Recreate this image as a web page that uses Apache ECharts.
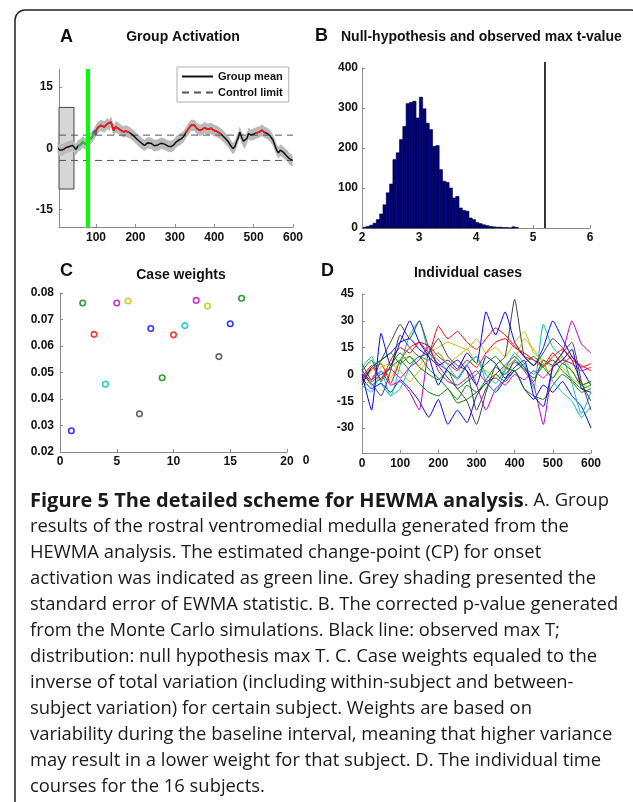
<!DOCTYPE html>
<html>
<head>
<meta charset="utf-8">
<script src="https://cdn.jsdelivr.net/npm/echarts@6.0.0/dist/echarts.min.js"></script>
<style>
  html, body { margin: 0; padding: 0; background: #fff; }
  #chart { width: 633px; height: 802px; }
</style>
</head>
<body>
<div id="chart"></div>
<script>

// ---- panel A: group EWMA statistic ----
let group_time = [
    2, 8, 15, 23, 32, 40, 45, 49, 55, 61,
    66, 70, 74, 79, 83, 87, 91, 97, 104, 112,
    121, 129, 134, 138, 145, 150, 155, 163, 170, 176,
    185, 191, 197, 204, 210, 217, 223, 231, 240, 248,
    257, 265, 274, 283, 291, 297, 303, 310, 316, 322,
    328, 335, 341, 350, 356, 363, 369, 375, 384, 392,
    398, 405, 412, 418, 426, 435, 442, 448, 453, 457,
    461, 465, 469, 474, 478, 483, 487, 493, 499, 504,
    508, 515, 521, 526, 529, 535, 542, 549, 555, 559,
    563, 568, 572, 576, 580, 585, 590, 595, 599
];
let group_mean = [
    0.2, -0.5, -0.4, 0.1, 0.4, 0.7, 0.2, -0.3, 0.6, 0.9,
    1.5, 1.2, 1.0, 1.8, 2.2, 2.4, 2.9, 3.8, 5.0, 5.6,
    5.2, 6.0, 5.6, 6.4, 4.3, 5.2, 5.0, 4.4, 4.0, 4.2,
    3.8, 3.4, 2.9, 2.2, 1.7, 1.1, 0.7, 1.3, 1.2, 0.6,
    0.8, 1.2, 1.0, 0.5, 0.4, 0.8, 1.5, 2.0, 2.3, 2.8,
    3.8, 4.8, 5.6, 5.6, 4.8, 4.4, 4.6, 5.0, 4.6, 4.9,
    4.4, 4.2, 3.8, 3.4, 2.6, 1.7, 0.6, -0.1, 0.5, 1.7,
    2.6, 3.9, 2.8, 1.7, 1.3, 2.4, 3.6, 3.2, 3.4, 3.6,
    3.8, 4.0, 4.4, 4.1, 3.8, 3.6, 3.0, 2.0, 0.5, -0.6,
    -1.1, -0.5, -0.7, -1.0, -1.5, -1.8, -2.5, -2.9, -3.0
];
let group_se = 1.4;
let red_spans = [[97, 185], [328, 418], [504, 529]];
let green_span = [55, 97];
let change_point = 80;
let cp_detect = [97, 3.8];
let control_limits = [3.2, -3.0];
let baseline_box = {x: [6, 44], y: [-10, 10]};

// ---- panel B: null distribution of max t ----
let bin_start = 2.02;
let bin_width = 0.058;
let null_counts = [
    2, 4, 7, 12, 21, 35, 58, 88, 110, 171,
    188, 221, 254, 311, 314, 317, 275, 327, 298, 262,
    246, 204, 206, 146, 117, 114, 100, 75, 79, 50,
    44, 42, 25, 21, 14, 11, 8, 6, 4, 3,
    2, 2, 1, 1, 0, 3, 1
];
let observed_t = 5.21;
let observed_top = 415;

// ---- panel C: case weights ----
let subjects = [1, 2, 3, 4, 5, 6, 7, 8, 9, 10, 11, 12, 13, 14, 15, 16];
let case_weights = [0.0280, 0.0762, 0.0644, 0.0456, 0.0762, 0.0770, 0.0344, 0.0666,
    0.0480, 0.0642, 0.0677, 0.0772, 0.0751, 0.0560, 0.0684, 0.0780];

// ---- panel D: individual time courses ----
let case_time = [0, 25, 50, 75, 100, 125, 150, 175, 200, 225, 250, 275, 300,
    325, 350, 375, 400, 425, 450, 475, 500, 525, 550, 575, 600];
let case_values = [
    [-2, -8, -5, -10, -3, -8, -15, -24, -14, -28, -20, -27, -12, -5, -10, -3, 2, -8, -14, -6, -10, -4, -12, -18, -30],
    [2, 8, -4, 5, 12, 6, 10, 3, -2, -8, -14, -6, -10, -3, 4, 0, 7, 3, -2, 5, 8, 2, -3, -8, -6],
    [-4, 3, 6, -5, 8, 15, 18, 12, 27, 20, 24, 18, 14, 20, 26, 22, 16, 10, 8, 5, 12, 6, 10, 4, 6],
    [4, 10, -5, -12, 5, 22, 30, 12, 8, 2, -3, 5, 10, 0, -5, 3, 12, 6, -8, 28, 15, 10, -5, -22, -10],
    [0, -3, 2, -6, -4, -10, -20, 12, 6, 2, -2, 5, -6, -20, -8, -3, 8, 2, -6, -28, 5, 12, 30, 17, 12],
    [-5, 2, 6, -2, 8, 10, 5, 12, 15, 18, 16, 14, 20, 12, 15, 10, 18, 24, 12, 8, 4, 10, 2, -5, -8],
    [6, -3, 8, 18, 28, 20, 30, 15, 5, -2, -8, -15, -28, -10, 5, 10, 42, 10, 5, 12, 20, 15, 8, -5, -15],
    [-6, 4, 8, 12, 18, 20, 14, 10, 5, 8, 3, 12, 6, 35, 22, 35, 18, 10, 5, 15, 30, 20, 10, 3, -6],
    [3, -6, -2, 4, 8, 2, -5, -10, -12, -8, -16, -14, -10, -5, 0, -4, 2, -8, -12, -14, -6, 0, -4, -10, -8],
    [-2, 5, -3, 8, 15, 12, 18, 16, 10, 6, 2, 8, 4, 12, 18, 20, 15, 12, 8, 4, 10, 14, 8, 5, 2],
    [-6, -10, 2, -12, -8, 4, 10, 8, 12, 5, -2, 6, 10, -4, -10, 2, 8, 4, 0, 6, -4, -10, -15, -24, -18],
    [2, -4, 0, 3, -2, 4, 8, 16, 2, -4, -6, -2, 2, -4, -2, -6, 0, -3, 2, -2, 4, 8, 6, 2, 4],
    [-8, -2, 4, 6, 2, -4, 2, 8, 12, 6, 10, 14, 6, 2, -2, 4, 8, 20, 14, 6, -2, 4, -2, -6, -4],
    [0, -5, -12, 2, 22, 15, 10, 12, 20, 10, 5, 2, -20, -8, 0, 5, 10, 4, -4, 8, 5, 12, 18, -4, -20],
    [0, -20, 23, 5, 18, 30, 18, 10, -6, 4, 8, 2, -6, 10, 6, -2, 4, 8, -12, -18, 4, 8, 14, -8, -10],
    [-3, 4, 8, 12, 6, 10, 4, 0, -3, 2, -8, -4, 0, 6, 10, 4, 2, 6, 10, 4, -2, 6, 2, -6, -4]
];

let caption_lines = [
    '{b|Figure 5 The detailed scheme for HEWMA analysis}. A. Group',
    'results of the rostral ventromedial medulla generated from the',
    'HEWMA analysis. The estimated change-point (CP) for onset',
    'activation was indicated as green line. Grey shading presented the',
    'standard error of EWMA statistic. B. The corrected p-value generated',
    'from the Monte Carlo simulations. Black line: observed max T;',
    'distribution: null hypothesis max T. C. Case weights equaled to the',
    'inverse of total variation (including within-subject and between-',
    'subject variation) for certain subject. Weights are based on',
    'variability during the baseline interval, meaning that higher variance',
    'may result in a lower weight for that subject. D. The individual time',
    'courses for the 16 subjects.'
];

// matlab default colour order
let matlab_colors = ['#0000ff', '#008000', '#ff0000', '#00bfbf', '#bf00bf', '#bfbf00', '#404040'];
let plot_font = '"Liberation Sans", Arial, sans-serif';
let caption_font = '"Open Sans", "Noto Sans", sans-serif';


document.addEventListener("DOMContentLoaded", () => {
    let chart = echarts.init(document.getElementById('chart'), null, {renderer: 'canvas'});
    chart.setOption(build_option());
});


function make_axis(grid, opts) {
    let axis = {
        type: 'value',
        gridIndex: grid,
        min: opts.min,
        max: opts.max,
        axisLine: {show: true, onZero: false, lineStyle: {color: '#8c8c8c', width: 1}},
        axisTick: {show: true, inside: true, length: 3, lineStyle: {color: '#8c8c8c'}},
        axisLabel: {
            color: '#111', fontWeight: 'bold', fontSize: 12, fontFamily: plot_font,
            margin: opts.margin || 6, showMinLabel: true, showMaxLabel: true
        },
        splitLine: {show: false}
    };
    if (opts.interval) axis.interval = opts.interval;
    if (opts.ticks) {
        axis.axisLabel.customValues = opts.ticks;
        axis.axisTick.customValues = opts.ticks;
    }
    if (opts.formatter) axis.axisLabel.formatter = opts.formatter;
    return axis;
}


function in_span(t, span) {
    return t >= span[0] && t <= span[1];
}


// standard error band drawn as one polygon (upper edge then lower edge back)
function render_band(params, api) {
    if (params.dataIndex !== 0) return null;
    let upper = group_time.map((t, i) => api.coord([t, group_mean[i] + group_se]));
    let lower = group_time.map((t, i) => api.coord([t, group_mean[i] - group_se])).reverse();
    return {
        type: 'polygon',
        shape: {points: upper.concat(lower)},
        style: {fill: '#bababa', stroke: null}
    };
}


function build_panel_a() {
    let mean = group_time.map((t, i) => [t, group_mean[i]]);
    let red = group_time.map((t, i) => {
        let hit = red_spans.some((s) => in_span(t, s));
        return [t, hit ? group_mean[i] : null];
    });
    let green = group_time.map((t, i) => [t, in_span(t, green_span) ? group_mean[i] : null]);

    return [
        {
            type: 'line', name: 'Control limit', xAxisIndex: 0, yAxisIndex: 0,
            data: [[6, control_limits[0]], [600, control_limits[0]]],
            symbol: 'none', silent: true,
            itemStyle: {color: '#555'},
            lineStyle: {color: '#555', width: 1, type: [7, 5]},
            markArea: {
                silent: true,
                itemStyle: {color: '#d6d6d6', borderColor: '#444', borderWidth: 1},
                data: [[
                    {xAxis: baseline_box.x[0], yAxis: baseline_box.y[0]},
                    {xAxis: baseline_box.x[1], yAxis: baseline_box.y[1]}
                ]]
            }
        },
        {
            type: 'line', name: 'Control limit', xAxisIndex: 0, yAxisIndex: 0,
            data: [[6, control_limits[1]], [600, control_limits[1]]],
            symbol: 'none', silent: true,
            itemStyle: {color: '#555'},
            lineStyle: {color: '#555', width: 1, type: [7, 5]}
        },
        {
            type: 'custom', name: 'band', xAxisIndex: 0, yAxisIndex: 0,
            renderItem: render_band, silent: true,
            data: mean, encode: {x: 0, y: 1}
        },
        {
            type: 'line', name: 'Group mean', xAxisIndex: 0, yAxisIndex: 0,
            data: mean, symbol: 'none',
            itemStyle: {color: '#111'},
            lineStyle: {color: '#111', width: 1.5}
        },
        {
            type: 'line', name: 'above_limit', xAxisIndex: 0, yAxisIndex: 0,
            data: red, symbol: 'none', connectNulls: false,
            lineStyle: {color: '#ff1a1a', width: 1.6}
        },
        {
            type: 'line', name: 'onset', xAxisIndex: 0, yAxisIndex: 0,
            data: green, symbol: 'none', connectNulls: false,
            lineStyle: {color: '#2ccf2c', width: 1.6},
            markLine: {
                silent: true, symbol: 'none', label: {show: false},
                lineStyle: {color: '#00ff00', width: 4, type: 'solid'},
                data: [{xAxis: change_point}]
            }
        },
        {
            type: 'scatter', name: 'cp', xAxisIndex: 0, yAxisIndex: 0,
            data: [cp_detect], symbolSize: 5,
            itemStyle: {color: '#3352c8'}
        }
    ];
}


function render_bin(params, api) {
    let start = api.coord([api.value(0), api.value(2)]);
    let end = api.coord([api.value(1), 0]);
    return {
        type: 'rect',
        shape: {x: start[0], y: start[1], width: end[0] - start[0], height: end[1] - start[1]},
        style: {fill: '#000084', stroke: '#000022', lineWidth: 0.6}
    };
}


function build_panel_b() {
    let bins = null_counts.map((c, i) => [bin_start + i * bin_width, bin_start + (i + 1) * bin_width, c]);
    return [
        {
            type: 'custom', name: 'null', xAxisIndex: 1, yAxisIndex: 1,
            renderItem: render_bin, data: bins,
            encode: {x: [0, 1], y: 2}
        },
        {
            type: 'line', name: 'observed', xAxisIndex: 1, yAxisIndex: 1,
            data: [[observed_t, 0], [observed_t, observed_top]],
            symbol: 'none', clip: false,
            lineStyle: {color: '#333', width: 2}
        }
    ];
}


function build_panel_c() {
    let points = subjects.map((s, i) => ({
        value: [s, case_weights[i]],
        itemStyle: {borderColor: matlab_colors[i % 7]}
    }));
    return [{
        type: 'scatter', name: 'weights', xAxisIndex: 2, yAxisIndex: 2,
        data: points, symbol: 'circle', symbolSize: 5.5,
        itemStyle: {color: '#fff', borderWidth: 1.6}
    }];
}


function build_panel_d() {
    return case_values.map((vals, k) => ({
        type: 'line', name: 'case ' + (k + 1), xAxisIndex: 3, yAxisIndex: 3,
        data: case_time.map((t, i) => [t, vals[i]]),
        symbol: 'none', smooth: 0.15,
        lineStyle: {color: matlab_colors[k % 7], width: 1}
    }));
}


function build_graphics() {
    let items = [];

    // rounded frame of the figure box
    items.push({
        type: 'rect', silent: true,
        shape: {x: 15, y: 10, width: 626, height: 900, r: 10},
        style: {fill: null, stroke: '#222', lineWidth: 1.5}
    });

    let title = (x, y, text, size, align) => ({
        type: 'text', x: x, y: y, silent: true,
        style: {
            text: text, fill: '#111', font: 'bold ' + size + 'px ' + plot_font,
            align: align || 'left', verticalAlign: 'middle'
        }
    });

    items.push(title(60, 37, 'A', 18));
    items.push(title(183, 37, 'Group Activation', 14, 'center'));
    items.push(title(315, 36, 'B', 18));
    items.push(title(341, 37, 'Null-hypothesis and observed max t-value', 14));
    items.push(title(60, 271, 'C', 18));
    items.push(title(181, 275, 'Case weights', 14, 'center'));
    items.push(title(321, 271, 'D', 18));
    items.push(title(468, 273, 'Individual cases', 14, 'center'));
    items.push(title(306, 461, '0', 12, 'center'));

    caption_lines.forEach((line, i) => {
        items.push({
            type: 'text', x: 30, y: 501 + i * 26, silent: true,
            style: {
                text: line, fill: '#1a1a1a',
                font: '18.4px ' + caption_font, verticalAlign: 'middle',
                rich: {b: {font: 'bold 20px ' + caption_font, fill: '#1a1a1a'}}
            }
        });
    });

    return items;
}


function build_option() {
    return {
        animation: false,
        backgroundColor: '#fff',
        grid: [
            {left: 59, top: 69, width: 234, height: 158},
            {left: 362, top: 68, width: 228, height: 160},
            {left: 60, top: 293, width: 227, height: 159},
            {left: 362, top: 294, width: 229, height: 159}
        ],
        xAxis: [
            make_axis(0, {min: 6, max: 600, ticks: [100, 200, 300, 400, 500, 600], margin: 5}),
            make_axis(1, {min: 2, max: 6, interval: 1, margin: 4}),
            make_axis(2, {min: 0, max: 20, interval: 5, margin: 4}),
            make_axis(3, {min: 0, max: 600, interval: 100, margin: 5})
        ],
        yAxis: [
            make_axis(0, {min: -19.3, max: 19.4, ticks: [-15, 0, 15]}),
            make_axis(1, {min: 0, max: 400, interval: 100, margin: 4}),
            make_axis(2, {min: 0.02, max: 0.08, interval: 0.01, formatter: (v) => v.toFixed(2)}),
            make_axis(3, {min: -44, max: 45, ticks: [-30, -15, 0, 15, 30, 45], margin: 8})
        ],
        legend: {
            data: ['Group mean', 'Control limit'],
            left: 177, top: 67, orient: 'vertical',
            itemWidth: 31, itemHeight: 10, itemGap: 5,
            padding: [4, 6, 4, 4],
            borderColor: '#b0b0b0', borderWidth: 1,
            selectedMode: false,
            itemStyle: {opacity: 0},
            textStyle: {fontWeight: 'bold', fontSize: 11, color: '#111', fontFamily: plot_font}
        },
        graphic: build_graphics(),
        series: [].concat(build_panel_a(), build_panel_b(), build_panel_c(), build_panel_d())
    };
}
</script>
</body>
</html>
